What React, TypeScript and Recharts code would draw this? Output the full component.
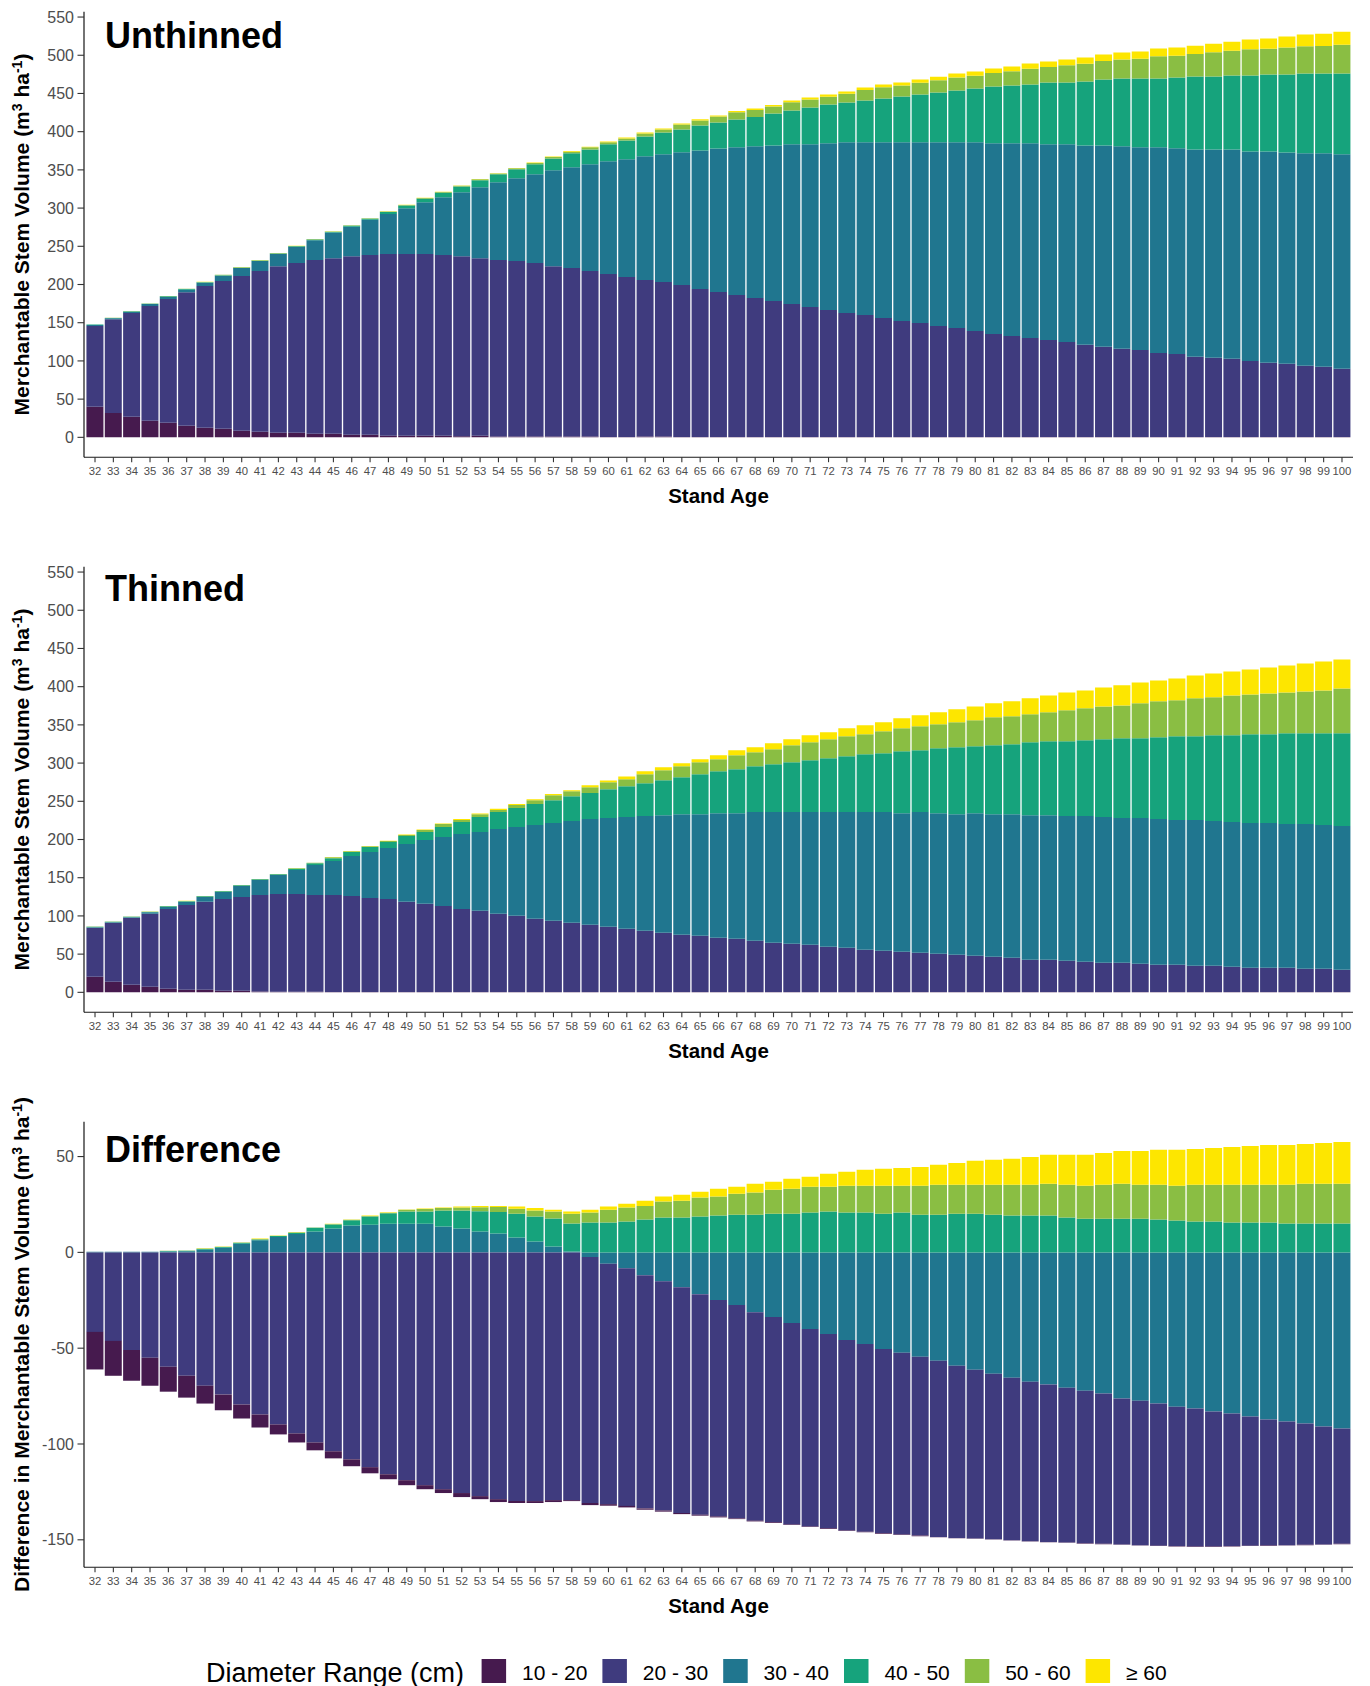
import React from 'react';
import { BarChart, Bar, XAxis, YAxis } from 'recharts';

const FONT = '"Liberation Sans", Arial, Helvetica, sans-serif';

const ages = [32,33,34,35,36,37,38,39,40,41,42,43,44,45,46,47,48,49,50,51,52,53,54,55,56,57,58,59,60,61,62,63,64,65,66,67,68,69,70,71,72,73,74,75,76,77,78,79,80,81,82,83,84,85,86,87,88,89,90,91,92,93,94,95,96,97,98,99,100];

const seriesNames = ['10 - 20', '20 - 30', '30 - 40', '40 - 50', '50 - 60', '\u2265 60'];
const seriesColors = ['#461a4e', '#3f3b7e', '#20768f', '#16a37c', '#8abe43', '#fde600'];

const volumeTicks = [0, 50, 100, 150, 200, 250, 300, 350, 400, 450, 500, 550];
const differenceTicks = [-150, -100, -50, 0, 50];

// ---------- Unthinned ----------
const unthinned1020 = [40,32,27,21.8,19,15,12.6,11.3,8.7,7.4, 6.1,6.1,4.8,4.8,3.5,3.5,2.2,2.2,2.2,2, 1.3,2,1,1,1,1,1,1,0.5,0.5, 1,1,0.5,0.5,0.5,0.4,0.4,0.4,0.3,0.3, 0.3,0.3,0.3,0.3,0.3,0.3,0.3,0.3,0.3,0.3, 0.3,0.3,0.3,0.3,0.3,0.3,0.3,0.3,0.3,0.3, 0.3,0.3,0.3,0.3,0.3,0.3,0.3,0.3,0.3];
const unthinned2030 = [105.8,122.5,135.7,150.1,162,175,185.4,193.2,202.3,210.2, 217.9,221.9,227.2,229.7,233.5,235,237.6,237.6,237.6,236.5, 235.7,232.5,231,229.6,227,223,220.5,216.6,213.2,209.2, 204.8,202.2,198.8,193.5,189.7,185.8,181.9,178,174.2,170.3, 166.4,162.4,159.7,155.9,152,149.4,145.5,142.9,139,135, 132.4,129.8,127.2,124.6,120.7,118.1,115.5,114.1,110.2,108.9, 105,103.7,102.4,99.7,97.2,95.9,93.3,92,89.3];
const unthinned3040 = [1.2,1.3,1.8,2.5,2.8,3.2,4.3,7,10.5,13, 15.8,21,26,33.5,38.5,46.1,52.6,60,67.9,75.7, 83.7,92.7,101.8,108.4,116.2,125.4,131.8,139.7,147.5,154.1, 161.9,167.1,173.7,181.5,187.8,193.3,198.5,203.6,208.9,212.8, 218,223.3,226,229.8,233.7,236.3,240.2,242.8,246.7,249.4, 252,254.6,255.9,258.5,261,263.6,265,265.1,269,269, 271.5,272.8,274.1,274.2,276.7,276.7,278,279.3,280.7];
const unthinned4050 = [0.5,0.5,0.5,0.5,0.7,0.8,0.7,0.7,0.7,0.8, 0.9,1,1,1,1.5,1.4,2.6,3.5,4.6,6, 7.5,9.2,10.4,11.7,13.1,15.6,18.3,19.5,22.2,24.8, 26.1,28.7,30,32.5,34,36.5,38.5,41.8,44.4,48.3, 50.9,52.2,54.8,57.4,60,62.6,65.3,67.9,70.5,74.4, 75.7,77,80.9,80.9,83.6,86.2,88.7,90,90,92.6, 95.3,95.3,96.7,99.3,100.6,101.9,104.5,104.5,105.8];
const unthinned5060 = [0.2,0.2,0.2,0.2,0.3,0.3,0.3,0.4,0.4,0.4, 0.4,0.4,0.5,0.5,0.5,0.6,0.6,0.9,1,1, 1.1,1.2,1,1.3,1.7,1.8,2.2,2.7,2.6,2.6, 3.9,4,6.5,6.7,7.7,9.3,9.2,9.1,10.6,10.4, 10.2,11.4,13.7,14.8,14.5,15.4,16.1,17.1,16.8,17.7, 18.6,20.8,20.4,22.5,23.4,24.2,25,25.8,29.2,28.7, 29.6,31.8,32.5,34.4,33.6,35.3,35.7,36.1,37.8];
const unthinned60 = [0.1,0.1,0.1,0.1,0.2,0.2,0.2,0.2,0.2,0.2, 0.2,0.2,0.2,0.2,0.2,0.2,0.2,0.2,0.3,0.3, 0.4,0.4,0.4,0.5,0.6,0.7,0.8,0.9,1,1.1, 1.2,1.3,1.3,1.4,1.5,1.7,1.9,2.1,2.4,2.6, 2.8,3,3.3,3.5,3.8,4.2,4.6,5,5.4,5.8, 6.2,6.6,7,7.5,8,8.5,9,9.5,10,10.5, 10.9,11.3,11.8,12.6,13.4,14.3,15.2,16.1,17];

// ---------- Thinned ----------
const thinned1020 = [20.5,13.9,10,7.4,4.8,3.5,3.5,2.2,2.2,1, 0.8,0.7,0.6,0.5,0.5,0.5,0.5,0.4,0.4,0.4, 0.3,0.3,0.3,0.3,0.3,0.3,0.3,0.3,0.3,0.3, 0.3,0.3,0.3,0.3,0.3,0.3,0.3,0.3,0.3,0.3, 0.3,0.3,0.3,0.3,0.3,0.3,0.3,0.3,0.3,0.3, 0.3,0.3,0.3,0.3,0.3,0.3,0.3,0.3,0.3,0.3, 0.3,0.3,0.3,0.3,0.3,0.3,0.3,0.3,0.3];
const thinned2030 = [63.9,77.1,87.5,95.3,104.4,110.9,114.9,120.1,122.7,126.5, 128,128.1,126.9,127,125.7,123.1,121.8,118,115.4,112.7, 108.9,106.3,102.4,99.8,95.9,93.3,90.7,88,85.4,82.8, 80.2,77.6,75,73.7,71.1,69.8,67.1,64.5,63.2,61.9, 59.3,58,55.4,54.1,52.8,51.5,50.2,48.9,47.6,46.3, 45,42.3,42.3,41,39.7,38.4,38.4,37.1,35.8,35.8, 34.5,34.5,33.2,31.9,31.9,31.9,30.6,30.6,29.3];
const thinned3040 = [0.9,0.8,0.8,2.2,2.6,4,6.5,9.1,14.4,19.6, 24.8,31.3,39.2,44.4,52.2,60,66.6,75.7,83.5,90.1, 97.9,103.1,111,116.2,122.7,127.9,133.1,138.4,142.3,146.2, 150.1,154,157.9,159.2,163.1,164.4,168.5,171.1,172.4,173.7, 176.3,177.6,180.2,181.5,181.4,184.1,184,184,186.6,186.6, 187.9,189.3,189.3,189.3,190.6,190.6,189.3,190.6,190.6,189.3, 190.6,189.3,189.3,189.3,189.3,188,189.3,188,188];
const thinned4050 = [0.5,0.5,0.5,0.5,0.8,0.8,0.8,0.8,0.8,0.8, 0.8,1.8,2.1,3.5,5.2,6.6,7.8,10.4,10.4,13.1, 15.7,19.6,22.2,24.8,27.4,30,32.6,34,37.9,40.5, 43.1,45.7,48.4,52.3,54.9,57.5,60,62.6,65.2,67.8, 70.5,73.1,75.7,77,81,80.9,84.9,87.5,87.5,90.1, 91.4,95.3,96.6,97.9,99.3,101.9,104.5,104.5,107.1,109.7, 109.7,112.3,113.6,116.2,116.2,118.8,118.8,120.1,121.4];
const thinned5060 = [0.3,0.3,0.3,0.2,0.4,0.4,0.4,0.4,0.4,0.4, 0.4,0.6,0.7,1.4,1,1,1.3,1.3,2.7,3.9, 2.6,3.9,2.6,3.9,5.2,6.5,6.6,7.8,9.1,9.1, 11.8,13.1,14.3,15.6,15.6,18.3,18.3,19.6,22.2,23.5, 24.8,26.1,26.1,28.7,30,31.3,31.3,32.6,34,36.6, 36.6,36.6,37.9,40.5,41.7,43,43,45.7,47,47, 49.6,49.6,52.2,52.2,53.5,53.5,54.8,56.1,58.7];
const thinned60 = [0.1,0.1,0.1,0.1,0.1,0.1,0.1,0.1,0.1,0.1, 0.1,0.2,0.2,0.3,0.3,0.3,0.4,0.9,0.8,0.8, 1.3,0.9,1.7,1.3,1.3,1.4,1.3,2.6,2.2,3.5, 3.9,3.9,3.9,3.9,5.3,6.5,6.5,7.8,7.9,9.2, 9.1,10.4,11.7,11.7,13.1,14.4,15.7,17,18.2,18.3, 19.6,20.9,22.2,23.5,23.5,24.8,26.2,27.4,27.4,28.7, 30,31.3,31.3,32.6,34,35.3,36.6,37.9,37.9];

// ---------- Difference ----------
const difference1020 = [-19.6,-18.2,-16.1,-14.6,-13,-11.4,-9.3,-8.2,-7.3,-6.8, -5.2,-4.7,-4.1,-3.7,-3.6,-3.2,-2.6,-2.6,-2.1,-2, -2.1,-1.6,-1.5,-1,-1,-1,-0.5,-1.1,-0.8,-0.8, -0.7,-0.6,-0.6,-0.5,-0.5,-0.4,-0.4,-0.4,-0.3,-0.3, -0.3,-0.3,-0.3,-0.3,-0.3,-0.3,-0.2,-0.2,-0.2,-0.2, -0.2,-0.2,-0.2,-0.2,-0.2,-0.2,-0.2,-0.2,-0.2,-0.2, -0.2,-0.2,-0.2,-0.2,-0.2,-0.2,-0.2,-0.2,-0.2];
const difference2030 = [-41.5,-46.2,-50.9,-55,-59.7,-64.4,-69.6,-74.2,-79.4,-84.6, -89.8,-94.5,-99.2,-103.8,-108,-112.1,-115.8,-118.9,-121.5,-123.6, -125.6,-127.2,-128.8,-129.8,-129.8,-129.3,-129.3,-128.4,-125.5,-124, -121.7,-119.6,-117.8,-115.1,-112.9,-111.3,-108.8,-107.1,-105.1,-103, -101.4,-99.4,-98,-96.1,-94.8,-93.3,-91.9,-89.8,-88.1,-86.4, -84.8,-83.2,-82.1,-80.8,-79.6,-78.4,-76.1,-75.4,-74.2,-72.8, -72,-70.4,-69.2,-67.4,-65.8,-64.5,-63.3,-61.5,-60.2];
const difference3040 = [0.3,0.3,0.3,0.3,0.5,0.6,1.4,2.4,4.5,6.3, 8,9.6,10.9,12.5,14,14.4,14.9,14.9,14.9,13.5, 12.5,10.9,9.9,7.8,5.7,3.1,0.5,-2.4,-5.9,-8.3, -11.9,-15.1,-18.2,-21.8,-24.9,-27.5,-31.2,-33.7,-36.9,-40, -42.6,-45.7,-47.8,-50.4,-52.4,-54.5,-56.6,-59.2,-61.2,-63.3, -65.4,-67.5,-69,-70.6,-72.2,-73.7,-76.3,-77.4,-78.9,-80.5, -81.5,-83.1,-84.1,-85.7,-87.2,-88.3,-89.3,-90.9,-91.9];
const difference4050 = [0,0,0,0.05,0.2,0.3,0.4,0.4,0.4,0.4, 0.5,0.7,1.9,2,2.8,4.3,5.5,6.4,6.4,8.3, 9.3,10.6,11.2,12.4,13,14.6,14.6,15.6,15.6,16.1, 17.1,18.2,18.2,18.7,19.2,19.7,19.7,20.2,20.2,20.8, 21.3,20.8,20.8,20.2,20.8,19.7,19.7,20.2,20.2,19.7, 19.2,19.2,19.2,18.2,17.6,17.6,17.6,17.6,17.1,16.6, 16.1,16.1,15.6,15.6,15.6,15.1,15.1,15.1,15.1];
const difference5060 = [0,0,0,0,0.1,0.1,0.2,0.2,0.2,0.3, 0.2,0.2,0.15,0.3,0.2,0.3,0.3,0.9,1.4,1.4, 1.6,2,2.6,2.6,3.1,3.6,5.1,5.2,6.6,7.3, 7.1,8.3,8.8,9.9,9.9,10.9,11.5,12.5,13,13.5, 13,14,14,14.6,14,15.1,15.6,15.1,15.1,15.6, 16.1,16.1,16.6,17.1,17.2,17.7,18.2,17.7,18.2,18.2, 19.2,19.2,19.7,19.7,19.7,20.2,20.7,20.7,20.7];
const difference60 = [0,0,0,0,0,0,0.1,0.1,0.1,0.2, 0.1,0.1,0.05,0.1,0.1,0.2,0.2,0.2,0.2,0.2, 0.5,0.7,0.5,1.2,1.3,1,1.1,1.4,1.7,2, 2.8,2.6,3.1,3.1,4.1,3.7,4.6,4.2,5.2,5.2, 6.7,7.3,8.3,8.8,9.3,9.8,10.4,11.4,12.5,13, 13.5,14.5,15.1,15.6,16.1,16.6,17.1,17.6,18.2,18.7, 18.7,19.2,19.7,20.2,20.8,20.8,20.8,21.3,21.8];

const keys = ['s1020', 's2030', 's3040', 's4050', 's5060', 's60'];

function buildRows(cols: number[][]) {
  return ages.map((age, i) => {
    const row: Record<string, number | string> = { age: String(age) };
    cols.forEach((col, k) => { row[keys[k]] = col[i]; });
    return row;
  });
}

const unthinnedRows = buildRows([unthinned1020, unthinned2030, unthinned3040, unthinned4050, unthinned5060, unthinned60]);
const thinnedRows = buildRows([thinned1020, thinned2030, thinned3040, thinned4050, thinned5060, thinned60]);
const differenceRows = buildRows([difference1020, difference2030, difference3040, difference4050, difference5060, difference60]);

const PANEL_H = 555;

type PanelProps = {
  rows: Record<string, number | string>[];
  domain: [number, number];
  ticks: number[];
  order: number[];
  sign?: boolean;
};

function Panel({ rows, domain, ticks, order, sign }: PanelProps) {
  return (
    <BarChart
      width={1370}
      height={PANEL_H}
      data={rows}
      margin={{ top: 11.7, right: 17, bottom: 67.8, left: 0 }}
      barCategoryGap={0.6}
      stackOffset={sign ? 'sign' : 'none'}
    >
      <XAxis
        dataKey="age"
        interval={0}
        height={30}
        padding={{ left: 1.84, right: 1.84 }}
        tick={{ fontSize: 11.3, fill: '#4d4d4d', fontFamily: FONT }}
        tickSize={5}
        tickMargin={5}
        axisLine={{ stroke: '#1a1a1a', strokeWidth: 1.1 }}
        tickLine={{ stroke: '#333333', strokeWidth: 1.1 }}
      />
      <YAxis
        type="number"
        domain={domain}
        ticks={ticks}
        allowDataOverflow
        width={84}
        tick={{ fontSize: 16, fill: '#4d4d4d', fontFamily: FONT }}
        tickSize={6.5}
        tickMargin={3.5}
        axisLine={{ stroke: '#000000', strokeWidth: 1.1 }}
        tickLine={{ stroke: '#333333', strokeWidth: 1.1 }}
      />
      {order.map((k) => (
        <Bar
          key={keys[k]}
          dataKey={keys[k]}
          name={seriesNames[k]}
          stackId="stack"
          fill={seriesColors[k]}
          isAnimationActive={false}
        />
      ))}
    </BarChart>
  );
}

function YTitle({ cy, prefix }: { cy: number; prefix: string }) {
  return (
    <text
      transform={`translate(29, ${cy}) rotate(-90)`}
      textAnchor="middle"
      fontSize={21}
      fontWeight="bold"
      fill="#000"
      fontFamily={FONT}
    >
      {prefix}Merchantable Stem Volume (m
      <tspan dy={-7} fontSize={14}>3</tspan>
      <tspan dy={7}> ha</tspan>
      <tspan dy={-7} fontSize={14}>-1</tspan>
      <tspan dy={7}>)</tspan>
    </text>
  );
}

const panelTitles = ['Unthinned', 'Thinned', 'Difference'];
const panelTitleBaselines = [47.5, 600.5, 1161.5];

export default function App() {
  const stdOrder = [0, 1, 2, 3, 4, 5];
  const diffOrder = [2, 1, 0, 3, 4, 5];
  return (
    <div style={{ position: 'absolute', left: 0, top: 0, width: 1370, height: 1686, background: '#ffffff', fontFamily: FONT }}>
      <div style={{ position: 'absolute', left: 0, top: 0 }}>
        <Panel rows={unthinnedRows} domain={[-26, 557]} ticks={volumeTicks} order={stdOrder} />
      </div>
      <div style={{ position: 'absolute', left: 0, top: PANEL_H }}>
        <Panel rows={thinnedRows} domain={[-26, 557]} ticks={volumeTicks} order={stdOrder} />
      </div>
      <div style={{ position: 'absolute', left: 0, top: PANEL_H * 2 }}>
        <Panel rows={differenceRows} domain={[-164.3, 68.2]} ticks={differenceTicks} order={diffOrder} sign />
      </div>
      <svg
        width={1370}
        height={1686}
        style={{ position: 'absolute', left: 0, top: 0, pointerEvents: 'none' }}
      >
        {panelTitles.map((t, i) => (
          <text key={t} x={105} y={panelTitleBaselines[i]} fontSize={36} fontWeight="bold" fill="#000" fontFamily={FONT}>
            {t}
          </text>
        ))}
        {[0, 1, 2].map((i) => (
          <text key={'xt' + i} x={718.5} y={503 + PANEL_H * i} textAnchor="middle" fontSize={20.5} fontWeight="bold" fill="#000" fontFamily={FONT}>
            Stand Age
          </text>
        ))}
        <YTitle cy={234.5} prefix="" />
        <YTitle cy={234.5 + PANEL_H} prefix="" />
        <YTitle cy={234.5 + PANEL_H * 2} prefix="Difference in " />
        <text x={206} y={1681.5} fontSize={27} fill="#000" fontFamily={FONT}>Diameter Range (cm)</text>
        {seriesNames.map((n, i) => (
          <g key={n}>
            <rect x={481.6 + i * 120.8} y={1659} width={24.5} height={24} fill={seriesColors[i]} />
            <text x={522 + i * 120.8} y={1679.5} fontSize={21} fill="#000" fontFamily={FONT}>{n}</text>
          </g>
        ))}
      </svg>
    </div>
  );
}
